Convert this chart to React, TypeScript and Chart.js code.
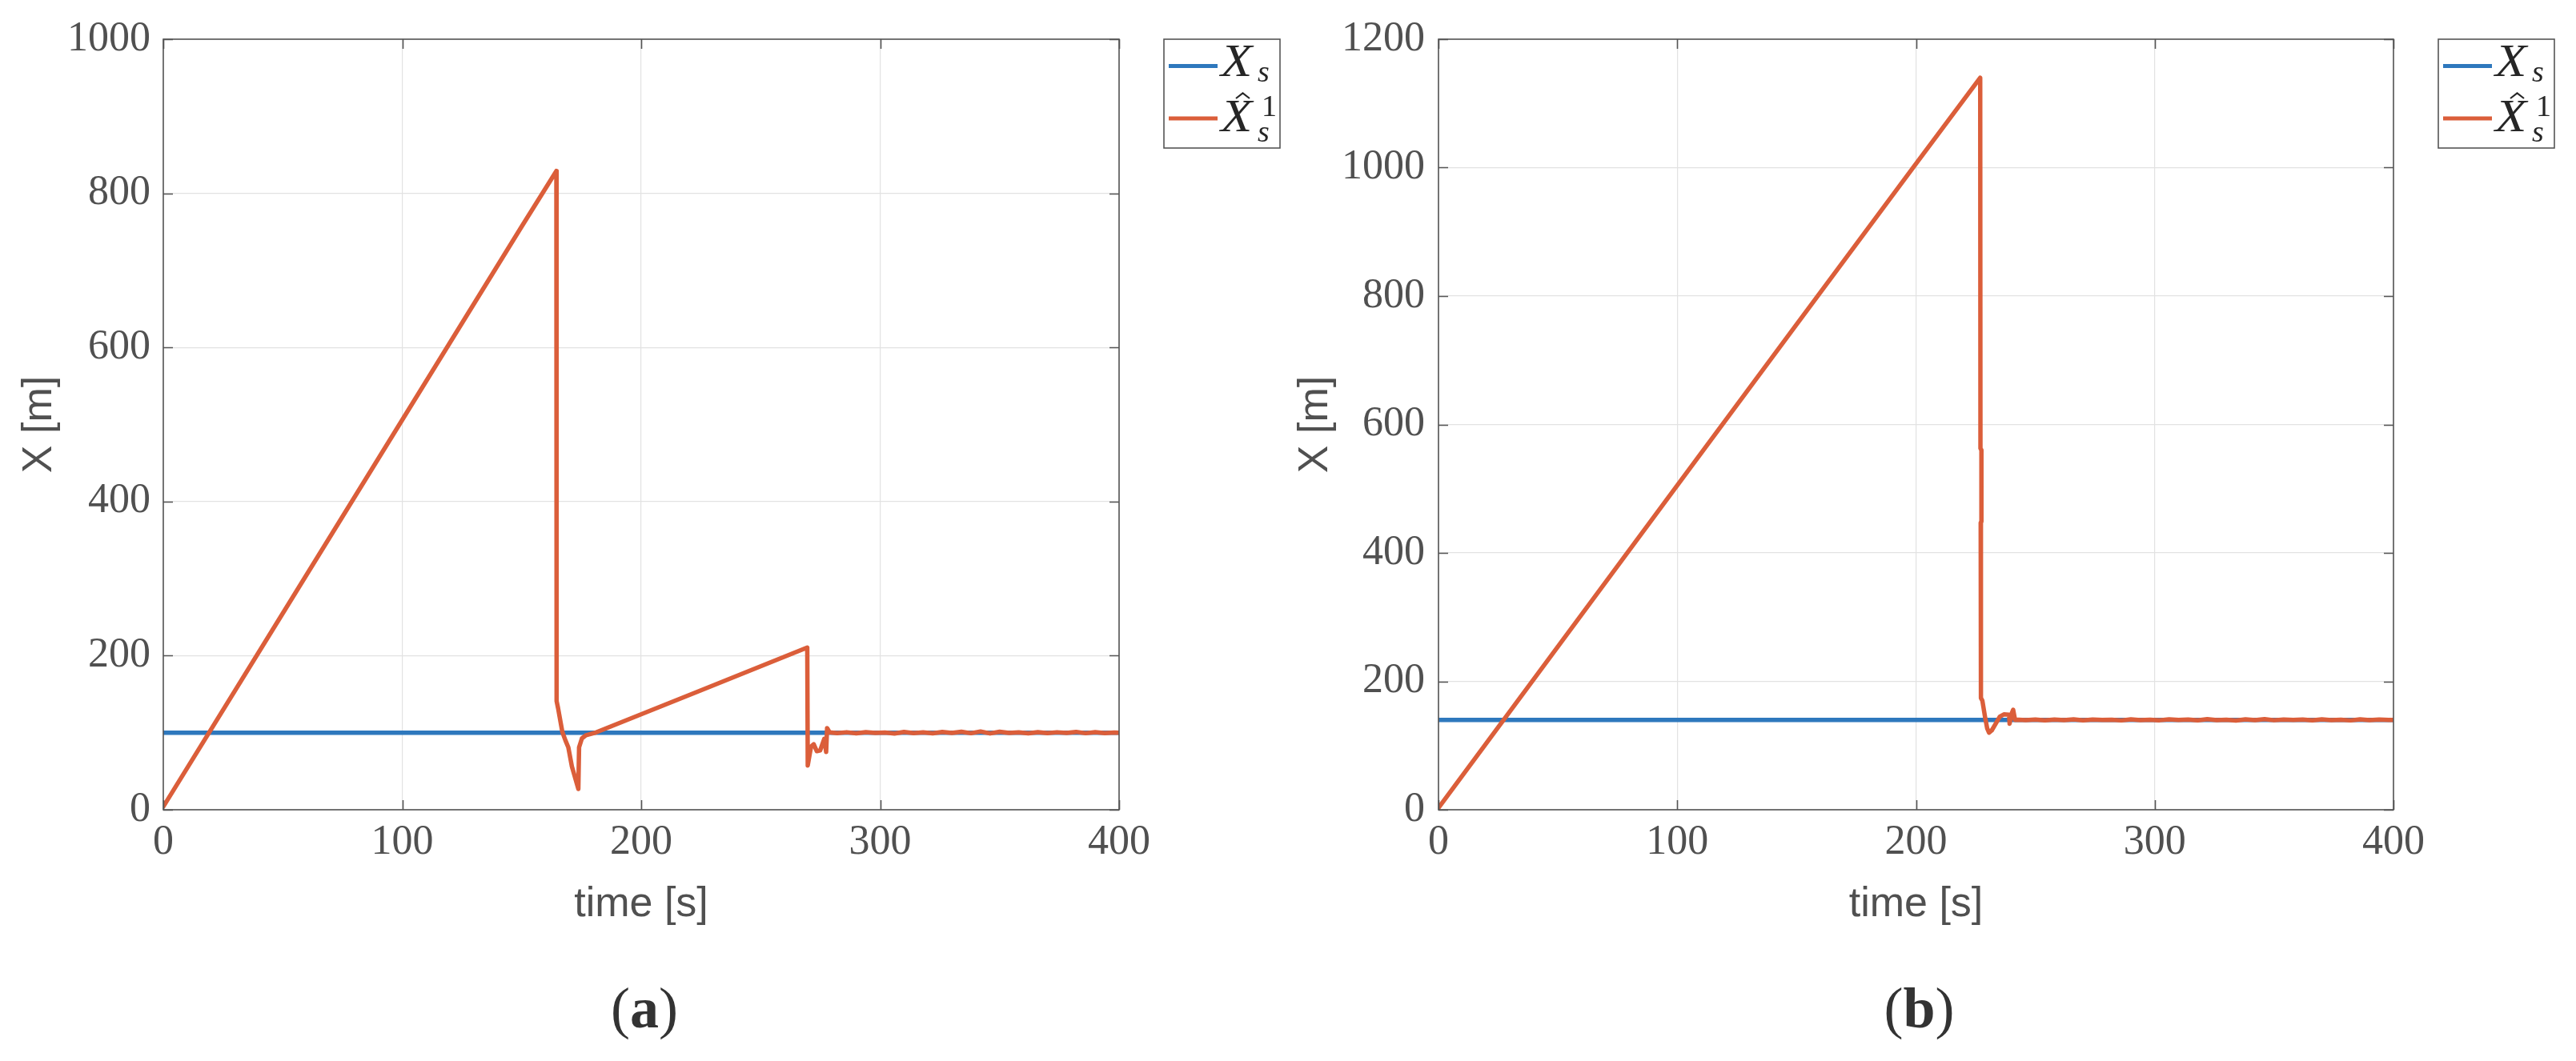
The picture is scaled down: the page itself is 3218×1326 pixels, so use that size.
import React, { useEffect, useRef } from "react";
import { Chart, registerables } from "chart.js";

Chart.register(...registerables);

// ---------- Panel (a) data ----------
const rampTimeA = [0, 50, 100, 150, 164.5];
const rampValA = [4, 255, 506, 757, 829];
const transTimeA = [164.6, 165.2, 167, 168.3, 169.5, 171, 173.7, 174.0, 175.2, 176.9, 180.3, 225, 269.5, 269.7, 270.4, 271.1, 272.2, 273.5, 274.9, 276.6, 277.0, 277.4, 277.8, 278.8];
const transValA = [141, 132, 101, 90, 81, 56, 27, 81, 92.7, 96.7, 99.5, 155, 210.5, 57.5, 70, 82, 85, 76, 77, 92, 84, 75, 106, 100.5];
const tailTimeA = [282, 286, 290, 294, 298, 302, 306, 310, 314, 318, 322, 326, 330, 334, 338, 342, 346, 350, 354, 358, 362, 366, 370, 374, 378, 382, 386, 390, 394, 398, 400];
const tailValA = [99.4, 100.6, 99.1, 100.8, 99.6, 100.3, 98.9, 101.0, 99.5, 100.4, 99.2, 100.9, 99.7, 101.3, 99.3, 101.6, 99.0, 101.2, 99.6, 100.5, 99.1, 100.8, 99.4, 100.6, 99.8, 101.1, 99.3, 100.7, 99.5, 100.2, 100.0];
const setTimeA = [0, 400];
const setValA = [100, 100];

// ---------- Panel (b) data ----------
const rampTimeB = [0, 50, 100, 150, 200, 226.9];
const rampValB = [3, 254, 505, 756, 1006, 1140];
const transTimeB = [227.0, 227.4, 227.4, 227.1, 227.2, 227.8, 228.9, 229.8, 230.6, 231.7, 233.4, 235.1, 236.8, 239.0, 239.2, 240.1, 240.7, 241.5, 243.0];
const transValB = [563, 560, 449, 447, 174, 170, 145, 127, 120, 123.4, 134, 145, 148.5, 148, 134, 150, 155.6, 140, 140.3];
const tailTimeB = [246, 250, 254, 258, 262, 266, 270, 274, 278, 282, 286, 290, 294, 298, 302, 306, 310, 314, 318, 322, 326, 330, 334, 338, 342, 346, 350, 354, 358, 362, 366, 370, 374, 378, 382, 386, 390, 394, 398, 400];
const tailValB = [139.5, 140.6, 139.2, 140.4, 139.7, 140.9, 139.3, 140.5, 139.8, 140.2, 139.1, 140.7, 139.6, 140.3, 139.4, 140.8, 139.9, 140.4, 139.2, 141.0, 139.6, 140.3, 139.0, 140.7, 139.5, 141.2, 139.4, 140.5, 139.8, 140.6, 139.3, 140.9, 139.7, 140.2, 139.1, 140.8, 139.6, 140.4, 139.8, 140.0];
const setTimeB = [0, 400];
const setValB = [140, 140];

// axis ticks
const xMax = 400;
const xStep = 100;
const yMaxA = 1000;
const yMaxB = 1200;
const yStep = 200;

const xTitle = "time [s]";
const yTitle = "X [m]";

const BLUE = "#2E78BD";
const ORANGE = "#DB5E3A";
const AXIS = "#555555";
const TEXT = "#505050";
const SERIF = '"Liberation Serif", "DejaVu Serif", serif';
const SANS = '"Liberation Sans", Arial, sans-serif';

const pts = (xs: number[], ys: number[]) => xs.map((x, i) => ({ x, y: ys[i] }));

type PanelCfg = {
  id: string;
  offsetX: number;
  yMax: number;
  yAxisWidth: number;
  rightPad: number;
  yTickPad: number;
  yTitlePad: number;
  legendLeft: number;
  caption: string;
  est: { x: number; y: number }[];
  set: { x: number; y: number }[];
};

const panels: PanelCfg[] = [
  {
    id: "a",
    offsetX: 0,
    yMax: yMaxA,
    yAxisWidth: 204,
    rightPad: 211,
    yTickPad: 16,
    yTitlePad: 24,
    legendLeft: 1454,
    caption: "a",
    est: [
      ...pts(rampTimeA, rampValA),
      ...pts(transTimeA, transValA),
      ...pts(tailTimeA, tailValA),
    ],
    set: pts(setTimeA, setValA),
  },
  {
    id: "b",
    offsetX: 1609,
    yMax: yMaxB,
    yAxisWidth: 188,
    rightPad: 228,
    yTickPad: 17,
    yTitlePad: 8.5,
    legendLeft: 1437,
    caption: "b",
    est: [
      ...pts(rampTimeB, rampValB),
      ...pts(transTimeB, transValB),
      ...pts(tailTimeB, tailValB),
    ],
    set: pts(setTimeB, setValB),
  },
];

function decorPlugin(cfg: PanelCfg) {
  return {
    id: "decor_" + cfg.id,
    afterDraw(chart: any) {
      const { ctx, chartArea: a, scales } = chart;
      const xs = scales.x;
      const ys = scales.y;
      ctx.save();
      // inner ticks
      const tl = 12;
      ctx.strokeStyle = AXIS;
      ctx.lineWidth = 1.6;
      ctx.beginPath();
      xs.ticks.forEach((t: any) => {
        const px = Math.round(xs.getPixelForValue(t.value)) + 0.5;
        ctx.moveTo(px, a.bottom);
        ctx.lineTo(px, a.bottom - tl);
        ctx.moveTo(px, a.top);
        ctx.lineTo(px, a.top + tl);
      });
      ys.ticks.forEach((t: any) => {
        const py = Math.round(ys.getPixelForValue(t.value)) + 0.5;
        ctx.moveTo(a.left, py);
        ctx.lineTo(a.left + tl, py);
        ctx.moveTo(a.right, py);
        ctx.lineTo(a.right - tl, py);
      });
      ctx.stroke();
      ctx.strokeRect(a.left, a.top, a.right - a.left, a.bottom - a.top);

      // legend
      const L = cfg.legendLeft;
      const T = a.top;
      const W = 145;
      const H = 136;
      ctx.fillStyle = "#ffffff";
      ctx.fillRect(L, T, W, H);
      ctx.strokeStyle = AXIS;
      ctx.lineWidth = 1.6;
      ctx.strokeRect(L, T, W, H);
      ctx.lineWidth = 5;
      ctx.strokeStyle = BLUE;
      ctx.beginPath();
      ctx.moveTo(L + 6, T + 33.5);
      ctx.lineTo(L + 67, T + 33.5);
      ctx.stroke();
      ctx.strokeStyle = ORANGE;
      ctx.beginPath();
      ctx.moveTo(L + 6, T + 99);
      ctx.lineTo(L + 67, T + 99);
      ctx.stroke();

      ctx.fillStyle = "#262626";
      ctx.textAlign = "left";
      ctx.textBaseline = "alphabetic";
      // italic X, slightly widened to mimic the math font
      const drawX = (x: number, y: number) => {
        ctx.save();
        ctx.translate(x, y);
        ctx.scale(1.15, 1);
        ctx.font = `italic 56px ${SERIF}`;
        ctx.fillText("X", 0, 0);
        ctx.restore();
      };
      drawX(L + 71, T + 46);
      drawX(L + 71, T + 115);
      ctx.font = `italic 38px ${SERIF}`;
      ctx.fillText("s", L + 117, T + 53);
      ctx.fillText("s", L + 117, T + 128);
      ctx.font = `38px ${SERIF}`;
      ctx.fillText("1", L + 122, T + 96);
      // hat
      ctx.strokeStyle = "#262626";
      ctx.lineWidth = 2.2;
      ctx.beginPath();
      ctx.moveTo(L + 90, T + 74);
      ctx.lineTo(L + 98.5, T + 67.5);
      ctx.lineTo(L + 107, T + 74);
      ctx.stroke();

      // caption
      const cx = (a.left + a.right) / 2 + 4;
      const base = 1284;
      ctx.fillStyle = "#333333";
      ctx.font = `72px ${SERIF}`;
      const wp = ctx.measureText("(").width;
      const wq = ctx.measureText(")").width;
      ctx.font = `bold 72px ${SERIF}`;
      const wl = ctx.measureText(cfg.caption).width;
      const total = wp + wl + wq;
      const x0 = cx - total / 2;
      ctx.font = `72px ${SERIF}`;
      ctx.fillText("(", x0, base);
      ctx.font = `bold 72px ${SERIF}`;
      ctx.fillText(cfg.caption, x0 + wp, base);
      ctx.font = `72px ${SERIF}`;
      ctx.fillText(")", x0 + wp + wl, base);
      ctx.restore();
    },
  };
}

function buildConfig(cfg: PanelCfg): any {
  const tickFont = { family: SERIF, size: 52 };
  const titleFont = { family: SANS, size: 52, lineHeight: 1 };
  const plain = (v: any) => String(v);
  return {
    type: "line",
    data: {
      datasets: [
        {
          label: "Xhat_s^1",
          data: cfg.est,
          borderColor: ORANGE,
          borderWidth: 5.5,
          pointRadius: 0,
          tension: 0,
          fill: false,
          borderJoinStyle: "round",
          borderCapStyle: "round",
          order: 0,
        },
        {
          label: "X_s",
          data: cfg.set,
          borderColor: BLUE,
          borderWidth: 5.5,
          pointRadius: 0,
          tension: 0,
          fill: false,
          order: 1,
        },
      ],
    },
    options: {
      animation: false,
      responsive: false,
      maintainAspectRatio: false,
      parsing: true,
      layout: { padding: { left: 0, top: 49, right: cfg.rightPad, bottom: 0 } },
      plugins: { legend: { display: false }, tooltip: { enabled: false } },
      scales: {
        x: {
          type: "linear",
          min: 0,
          max: xMax,
          ticks: {
            stepSize: xStep,
            autoSkip: false,
            maxRotation: 0,
            padding: 10,
            font: tickFont,
            color: TEXT,
            callback: plain,
          },
          grid: { color: "#e2e2e2", lineWidth: 1.2, drawTicks: false },
          border: { display: false },
          title: {
            display: true,
            text: xTitle,
            font: titleFont,
            color: TEXT,
            padding: { top: 0, bottom: 169 },
          },
          afterFit: (s: any) => {
            s.height = 314;
            s.paddingLeft = 0;
            s.paddingRight = 0;
          },
        },
        y: {
          type: "linear",
          min: 0,
          max: cfg.yMax,
          ticks: {
            stepSize: yStep,
            autoSkip: false,
            padding: cfg.yTickPad,
            font: tickFont,
            color: TEXT,
            callback: plain,
          },
          grid: { color: "#e2e2e2", lineWidth: 1.2, drawTicks: false },
          border: { display: false },
          title: {
            display: true,
            text: yTitle,
            font: titleFont,
            color: TEXT,
            padding: { top: cfg.yTitlePad, bottom: 0 },
          },
          afterFit: (s: any) => {
            s.width = cfg.yAxisWidth;
            s.paddingTop = 0;
            s.paddingBottom = 0;
          },
        },
      },
    },
    plugins: [decorPlugin(cfg)],
  };
}

function Panel({ cfg }: { cfg: PanelCfg }) {
  const ref = useRef<HTMLCanvasElement>(null);
  useEffect(() => {
    if (!ref.current) return;
    const chart = new Chart(ref.current, buildConfig(cfg));
    return () => chart.destroy();
  }, [cfg]);
  return (
    <canvas
      ref={ref}
      width={1609}
      height={1326}
      style={{ position: "absolute", left: cfg.offsetX, top: 0, width: 1609, height: 1326 }}
    />
  );
}

export default function App() {
  return (
    <div
      style={{
        position: "absolute",
        left: 0,
        top: 0,
        width: 3218,
        height: 1326,
        background: "#ffffff",
        overflow: "hidden",
      }}
    >
      {panels.map((p) => (
        <Panel key={p.id} cfg={p} />
      ))}
    </div>
  );
}
